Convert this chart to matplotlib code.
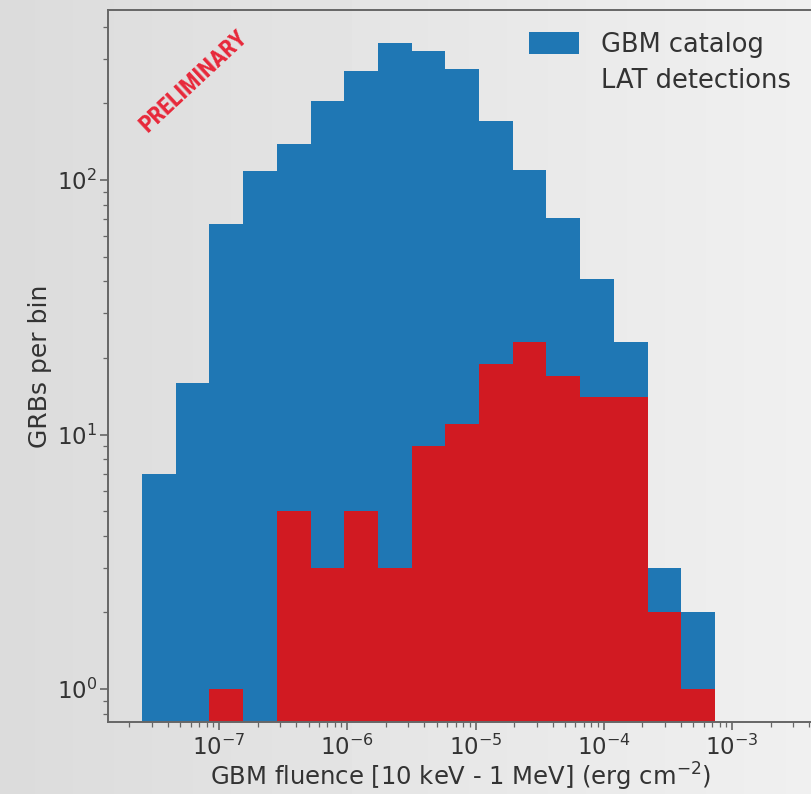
import matplotlib
matplotlib.use('Agg')
import matplotlib.pyplot as plt
from matplotlib import font_manager
import numpy as np

# log10 fluence range covered by the histogram, and the number of bins
log_fluence_min = -7.60
log_fluence_max = -3.133
n_bins = 17

# counts per bin
gbm_counts = [7, 16, 67, 108, 139, 205, 267, 345, 322, 272, 170, 109, 71, 41, 23, 3, 2]
lat_counts = [0, 0, 1, 0, 5, 3, 5, 3, 9, 11, 19, 23, 17, 14, 14, 2, 1]

edges = np.logspace(log_fluence_min, log_fluence_max, n_bins + 1)
centers = np.sqrt(edges[:-1] * edges[1:])

W, H = 811, 794
fig = plt.figure(figsize=(W / 100, H / 100), dpi=100)

# grey slide background, a bit lighter to the right
bg = fig.add_axes([0, 0, 1, 1], zorder=-1)
grad = np.linspace(0.86, 0.94, 256)[None, :]
bg.imshow(grad, cmap='gray', vmin=0, vmax=1, aspect='auto', extent=[0, 1, 0, 1])
bg.axis('off')

# axes box in pixels: left 108, right beyond the image edge, top 10, bottom 722
left_px, right_px, top_px, bot_px = 108, 813, 10, 722
ax = fig.add_axes([left_px / W, 1 - bot_px / H, (right_px - left_px) / W, (bot_px - top_px) / H])
ax.patch.set_alpha(0)

ax.hist(centers, bins=edges, weights=gbm_counts, color='#1f77b4', label='GBM catalog')
ax.hist(centers, bins=edges, weights=lat_counts, color='#d11a22', label='LAT detections')

ax.set_xscale('log')
ax.set_yscale('log')

# decade positions: 1e-7 at x=219 px, 128.25 px per decade
px_dec = 128.25
ax.set_xlim(10 ** (-7 + (left_px - 219) / px_dec), 10 ** (-7 + (right_px - 219) / px_dec))
py_dec = 254.5
ax.set_ylim(10 ** ((689 - bot_px) / py_dec), 10 ** ((689 - top_px) / py_dec))

fs_tick = 16.5
fs_lab = 17.5
ax.set_xlabel('GBM fluence [10 keV - 1 MeV] (erg cm$^{-2}$)', fontsize=fs_lab, color='#333333', labelpad=0)
ax.set_ylabel('GRBs per bin', fontsize=18, color='#333333', labelpad=3)
ax.tick_params(which='major', labelsize=fs_tick, labelcolor='#333333', length=6, width=1.2, color='#666666')
ax.tick_params(axis='y', which='major', pad=2)
ax.tick_params(which='minor', length=3.5, width=0.9, color='#666666')
for s in ax.spines.values():
    s.set_color('#666666')
    s.set_linewidth(1.4)

leg = ax.legend(loc='upper right', frameon=False, fontsize=18.5, handlelength=1.95,
                handleheight=0.95, borderaxespad=0.45, labelspacing=0.4, handletextpad=0.85)
for t in leg.get_texts():
    t.set_color('#333333')
leg.legend_handles[1].set_visible(False)

# pick a narrow font for the stamp if one is installed
stamp_font = None
for name in ['Liberation Sans Narrow', 'DejaVu Sans Condensed', 'Roboto Condensed']:
    try:
        font_manager.findfont(font_manager.FontProperties(family=name, weight='bold'),
                              fallback_to_default=False)
        stamp_font = name
        break
    except Exception:
        pass

if stamp_font is not None:
    fig.text(194 / W, 1 - 81 / H, 'PRELIMINARY', rotation=43, ha='center', va='center',
             color='#e8283a', fontsize=17.5, fontweight='bold', family=[stamp_font, 'DejaVu Sans'])
else:
    fig.text(194 / W, 1 - 81 / H, 'PRELIMINARY', rotation=43, ha='center', va='center',
             color='#e8283a', fontsize=14, fontweight='bold', fontstretch='condensed',
             family=['DejaVu Sans'])

fig.savefig('out.png', dpi=100)
